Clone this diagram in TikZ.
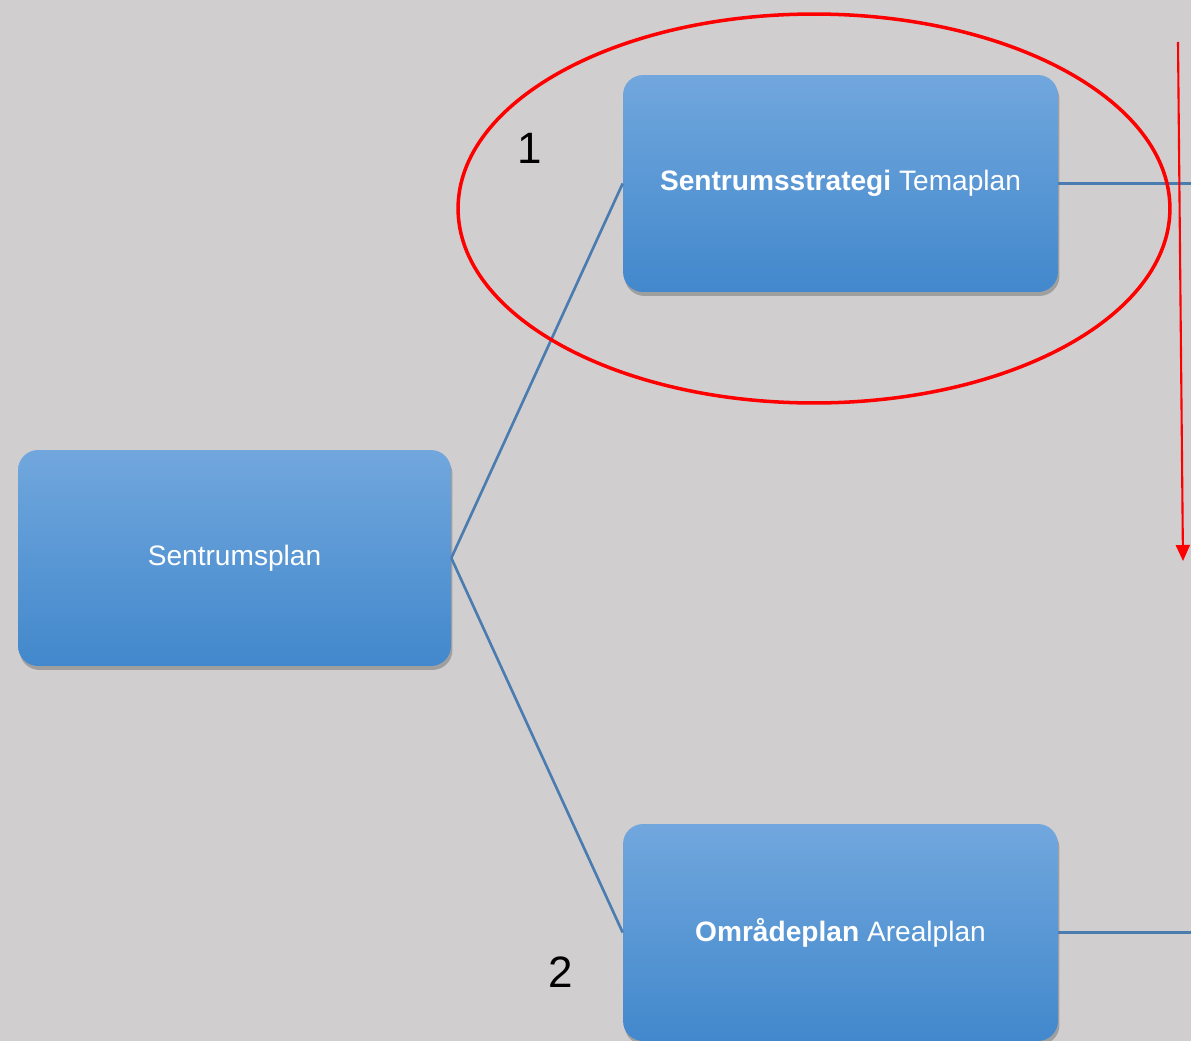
\documentclass[tikz,border=0pt]{standalone}
\usepackage{fontspec}
\setmainfont{Liberation Sans}
\usetikzlibrary{arrows.meta,shadows}
\definecolor{bggrey}{RGB}{208,206,207}
\definecolor{boxtop}{RGB}{113,167,221}
\definecolor{boxbot}{RGB}{66,136,204}
\definecolor{edgeblue}{RGB}{74,124,176}
\tikzset{
  planbox/.style={rectangle, rounded corners=0.4cm, top color=boxtop, bottom color=boxbot,
    minimum width=8.7cm, minimum height=4.34cm, inner sep=0pt, text=white,
    font=\fontsize{16}{19}\selectfont,
    drop shadow={shadow xshift=0.03cm, shadow yshift=-0.08cm, opacity=0.3, fill=black!80}},
  tree/.style={draw=edgeblue, line width=1.5pt},
  marker/.style={font=\fontsize{25}{30}\selectfont}
}

\begin{document}
\begin{tikzpicture}[x=0.02cm, y=-0.02cm]
    % Background
    \fill[bggrey] (0,0) rectangle (1191,1041);
    \useasboundingbox (0,0) rectangle (1191,1041);
    % Nodes
    \node[planbox, minimum width=8.66cm, minimum height=4.32cm] (sentrum) at (234.5, 558) {Sentrumsplan};
    \node[planbox] (tema) at (840.5, 183.5) {\textbf{Sentrumsstrategi} Temaplan};
    \node[planbox] (omrade) at (840.5, 932.5) {\textbf{Områdeplan} Arealplan};
    \node[marker] (one) at (530, 148) {1};
    \node[marker] (two) at (561, 972) {2};
    \coordinate (temaout) at (1191, 183.5);
    \coordinate (omradeout) at (1191, 932.5);
    \coordinate (arrowtop) at (1178, 42);
    \coordinate (arrowtip) at (1183, 561);
    % Edges
    \draw[tree] (sentrum.east) -- (tema.west);
    \draw[tree] (sentrum.east) -- (omrade.west);
    \draw[tree] (tema.east) -- (temaout);
    \draw[tree] (omrade.east) -- (omradeout);
    % Markup
    \draw[red, line width=2pt] (814, 208.5) ellipse [x radius=7.12cm, y radius=3.89cm];
    \draw[red, line width=1.2pt, -{Triangle[length=0.32cm, width=0.28cm]}] (arrowtop) -- (arrowtip);
\end{tikzpicture}
\end{document}
